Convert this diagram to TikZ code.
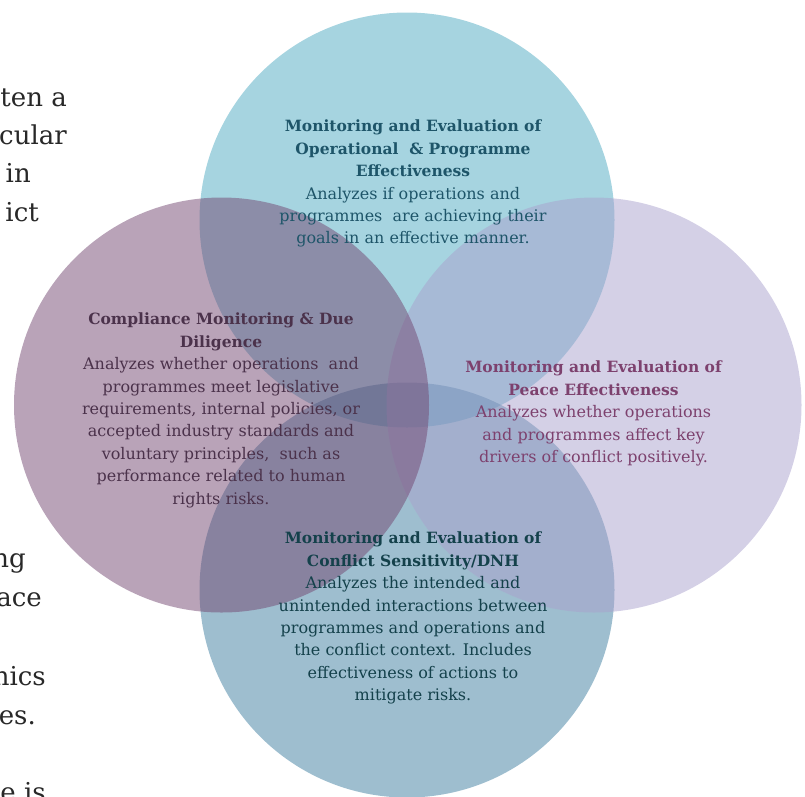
\documentclass[tikz,border=0pt]{standalone}
\usepackage{fontspec}
\setmainfont{DejaVu Serif}
\definecolor{ctop}{RGB}{77,169,193}
\definecolor{cbot}{RGB}{61,125,159}
\definecolor{cleft}{RGB}{115,71,113}
\definecolor{cright}{RGB}{169,161,205}
\definecolor{ttop}{RGB}{30,85,105}
\definecolor{tleft}{RGB}{75,50,75}
\definecolor{tright}{RGB}{125,65,110}
\definecolor{tbot}{RGB}{20,65,75}
\definecolor{bgtext}{RGB}{40,40,40}
\newcommand{\hd}[1]{{\fontsize{15.5}{22.4}\selectfont\bfseries #1}}
\tikzset{
  circ/.style={circle, minimum size=415pt, inner sep=0pt, fill opacity=0.5},
  blurb/.style={align=center, inner sep=0pt, anchor=north, font=\fontsize{16}{22.4}\selectfont},
  bgline/.style={anchor=base east, inner sep=0pt, text=bgtext, font=\fontsize{26}{26}\selectfont}
}
\begin{document}
\begin{tikzpicture}[x=1pt,y=-1pt]
\useasboundingbox (0,0) rectangle (805,796);
% cut-off background text
\node[bgline] (b1) at (67,106) {ten a};
\node[bgline] (b2) at (67,144) {cular};
\node[bgline] (b3) at (31,182) {in};
\node[bgline] (b4) at (39,221) {ict};
\node[bgline] (b5) at (26,567) {ng};
\node[bgline] (b6) at (42,606) {ace};
\node[bgline] (b7) at (46,685) {nics};
\node[bgline] (b8) at (36,724) {es.};
\node[bgline] (b9) at (46,801) {e is};
% circles
\node[circ, fill=ctop] (ctop) at (407,220) {};
\node[circ, fill=cbot] (cbot) at (407,590) {};
\node[circ, fill=cright] (cright) at (594,405) {};
\node[circ, fill=cleft] (cleft) at (221.5,405) {};
% texts
\node[blurb, text=ttop] (ttop) at (413,120) {%
\hd{Monitoring and Evaluation of}\\
\hd{Operational \ \& Programme}\\
\hd{Effectiveness}\\
Analyzes if operations and\\
programmes \ are achieving their\\
goals in an effective manner.};
\node[blurb, text=tleft] (tleft) at (221,313) {%
\hd{Compliance Monitoring \& Due}\\
\hd{Diligence}\\
Analyzes whether operations \ and\\
programmes meet legislative\\
requirements, internal policies, or\\
accepted industry standards and\\
voluntary principles, \ such as\\
performance related to human\\
rights risks.};
\node[blurb, text=tright] (tright) at (593.5,361) {%
\hd{Monitoring and Evaluation of}\\
\hd{Peace Effectiveness}\\
Analyzes whether operations\\
and programmes affect key\\
drivers of conflict positively.};
\node[blurb, text=tbot] (tbot) at (413,532) {%
\hd{Monitoring and Evaluation of}\\
\hd{Conflict Sensitivity/DNH}\\
Analyzes the intended and\\
unintended interactions between\\
programmes and operations and\\
the conflict context. Includes\\
effectiveness of actions to\\
mitigate risks.};
\end{tikzpicture}
\end{document}
